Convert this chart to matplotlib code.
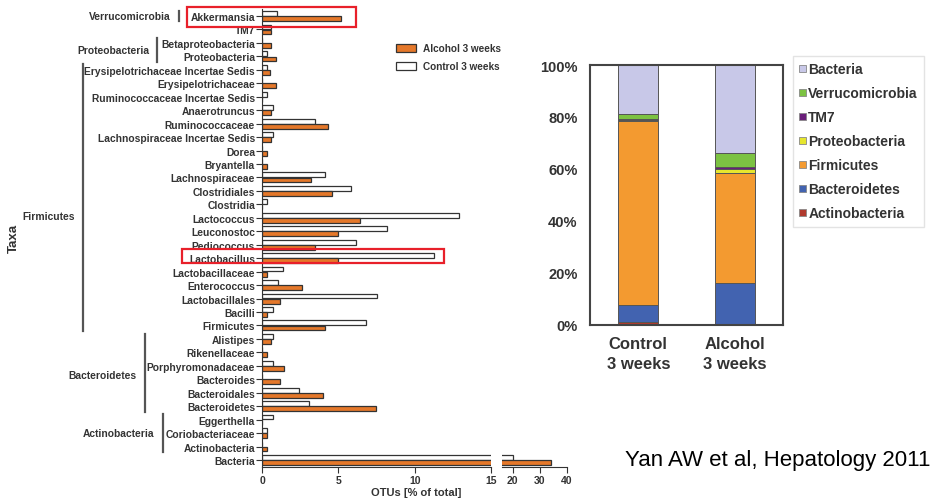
import matplotlib.pyplot as plt
import numpy as np
from matplotlib.patches import Patch, Rectangle
from matplotlib.transforms import blended_transform_factory

plt.rcParams['font.family'] = ['Liberation Sans', 'DejaVu Sans']

# --- left chart data (OTUs, % of total) ---
taxa = ['Akkermansia', 'TM7', 'Betaproteobacteria', 'Proteobacteria',
        'Erysipelotrichaceae Incertae Sedis', 'Erysipelotrichaceae',
        'Ruminococcaceae Incertae Sedis', 'Anaerotruncus', 'Ruminococcaceae',
        'Lachnospiraceae Incertae Sedis', 'Dorea', 'Bryantella', 'Lachnospiraceae',
        'Clostridiales', 'Clostridia', 'Lactococcus', 'Leuconostoc', 'Pediococcus',
        'Lactobacillus', 'Lactobacillaceae', 'Enterococcus', 'Lactobacillales',
        'Bacilli', 'Firmicutes', 'Alistipes', 'Rikenellaceae', 'Porphyromonadaceae',
        'Bacteroides', 'Bacteroidales', 'Bacteroidetes', 'Eggerthella',
        'Coriobacteriaceae', 'Actinobacteria', 'Bacteria']
control = [1.0, 0.6, 0.0, 0.35, 0.35, 0.0, 0.35, 0.7, 3.45, 0.7, 0.0, 0.0, 4.1,
           5.8, 0.35, 12.9, 8.2, 6.15, 11.25, 1.4, 1.05, 7.5, 0.7, 6.8, 0.7, 0.0,
           0.7, 0.0, 2.4, 3.05, 0.7, 0.35, 0.0, 20.0]
alcohol = [5.2, 0.6, 0.6, 0.9, 0.55, 0.9, 0.0, 0.6, 4.35, 0.6, 0.3, 0.3, 3.2,
           4.6, 0.0, 6.4, 5.0, 3.5, 5.0, 0.3, 2.6, 1.15, 0.3, 4.1, 0.6, 0.3,
           1.45, 1.15, 4.0, 7.45, 0.0, 0.3, 0.3, 34.0]

# phylum groups: (label, first row, last row, label row)
groups = [('Verrucomicrobia', 0, 0, 0), ('Proteobacteria', 2, 3, 2.5),
          ('Firmicutes', 4, 23, 14.85), ('Bacteroidetes', 24, 29, 26.7),
          ('Actinobacteria', 30, 32, 31)]
group_x = [178.5, 157, 83, 144.5, 162.5]  # bracket line x (px)

# --- right chart data (relative abundance, %) ---
groups_r = ['Control\n3 weeks', 'Alcohol\n3 weeks']
phyla = ['Actinobacteria', 'Bacteroidetes', 'Firmicutes', 'Proteobacteria',
         'TM7', 'Verrucomicrobia', 'Bacteria']
share = {
    'Actinobacteria': [1.0, 0.3],
    'Bacteroidetes': [6.7, 15.7],
    'Firmicutes': [70.8, 42.5],
    'Proteobacteria': [0.3, 1.5],
    'TM7': [0.5, 0.6],
    'Verrucomicrobia': [1.9, 5.4],
    'Bacteria': [18.8, 34.0],
}
phyla_colors = ['#B03A2E', '#4263B0', '#F39A30', '#E6E62E', '#6A1F7A',
                '#7CC242', '#C8C8E8']

W, H = 930, 502
fig = plt.figure(figsize=(W / 100, H / 100), dpi=100)
txt = '#333333'
orange = '#E5782A'

def fx(px):
    return px / W

def fy(py):
    return 1 - py / H

# left: broken x axis made of two axes
ax1 = fig.add_axes([fx(262), fy(467.7), fx(491) - fx(262), fy(10.3) - fy(467.7)])
ax2 = fig.add_axes([fx(502), fy(467.7), fx(567) - fx(502), fy(10.3) - fy(467.7)])

y = np.arange(len(taxa))
for ax in (ax1, ax2):
    ctl = ax.barh(y - 0.19, control, height=0.36, color='white',
                  edgecolor='#333333', linewidth=0.9)
    alc = ax.barh(y + 0.19, alcohol, height=0.36, color=orange,
                  edgecolor='#333333', linewidth=0.9)
    ax.set_ylim(len(taxa) - 0.5, -0.5)
    for s in ('top', 'right'):
        ax.spines[s].set_visible(False)
    ax.spines['bottom'].set_color(txt)
    ax.spines['left'].set_color(txt)
    ax.tick_params(axis='x', length=4, width=0.8, colors=txt, labelsize=7.5, pad=2)

ax1.set_xlim(0, 15)
ax1.set_xticks([0, 5, 10, 15])
ax1.set_yticks(y)
ax1.set_yticklabels(taxa, fontsize=7.4, fontweight='bold', color=txt)
ax1.tick_params(axis='y', length=4, width=0.8, colors=txt, pad=1)

ax2.set_xlim(16, 40)
ax2.set_xticks([20, 30, 40])
ax2.spines['left'].set_visible(False)
ax2.set_yticks([])
for ax in (ax1, ax2):
    for lab in ax.get_xticklabels():
        lab.set_fontweight('bold')

fig.text(fx(416), fy(493), 'OTUs [% of total]', ha='center', va='center',
         fontsize=8, fontweight='bold', color=txt)
fig.text(fx(14), fy(238), 'Taxa', rotation=90, ha='center', va='center',
         fontsize=9.5, fontweight='bold', color=txt)

# phylum brackets and labels
tr = blended_transform_factory(fig.transFigure, ax1.transData)
for (name, r0, r1, rl), lx in zip(groups, group_x):
    ax1.plot([fx(lx), fx(lx)], [r0 - 0.4, r1 + 0.4], transform=tr,
             color='#555555', lw=1.6, clip_on=False)
    ax1.text(fx(lx - 8), rl, name, transform=tr, ha='right', va='center',
             fontsize=7.4, fontweight='bold', color=txt)

# red highlight boxes
for row, x0, x1, d0, d1 in [(0, 187, 356, -0.65, 0.84), (18, 182, 444, -0.68, 0.39)]:
    fig.add_artist(Rectangle((fx(x0), row + d0), fx(x1) - fx(x0), d1 - d0,
                             transform=tr, fill=False, edgecolor='#E8202A', lw=1.6))

fig.legend(handles=[alc, ctl], labels=['Alcohol 3 weeks', 'Control 3 weeks'],
           loc='upper left', bbox_to_anchor=(fx(396), fy(44)), frameon=False,
           borderaxespad=0, borderpad=0, handlelength=2.0,
           handleheight=0.85, handletextpad=0.7, labelspacing=0.8,
           prop={'weight': 'bold', 'size': 7.2})
for t in fig.legends[-1].get_texts():
    t.set_color(txt)

# right: stacked composition bars
ax3 = fig.add_axes([fx(590), fy(326), fx(783) - fx(590), fy(66) - fy(326)])
xr = np.arange(len(groups_r))
bottom = np.zeros(len(groups_r))
handles = []
for p, c in zip(phyla, phyla_colors):
    vals = np.array(share[p])
    ax3.bar(xr, vals, 0.41, bottom=bottom, color=c, edgecolor='#555555', linewidth=0.7)
    bottom += vals
    handles.append(Patch(facecolor=c, edgecolor='#888888', linewidth=0.6, label=p))
ax3.set_xlim(-0.5, 1.5)
ax3.set_ylim(0, 100)
ax3.set_yticks([0, 20, 40, 60, 80, 100])
ax3.set_yticklabels(['0%', '20%', '40%', '60%', '80%', '100%'],
                    fontsize=10.5, fontweight='bold', color=txt)
ax3.set_xticks(xr)
ax3.set_xticklabels(groups_r, fontsize=12, fontweight='bold', color=txt,
                    linespacing=1.4)
ax3.tick_params(axis='y', length=0, pad=9)
ax3.tick_params(axis='x', length=0, pad=8)
for s in ax3.spines.values():
    s.set_color('#444444')
    s.set_linewidth(1.5)

leg = fig.legend(handles=handles[::-1], loc='upper left',
                 bbox_to_anchor=(fx(793), fy(57)), borderaxespad=0,
                 prop={'weight': 'bold', 'size': 10}, handlelength=0.45,
                 handleheight=0.45, handletextpad=0.2, labelspacing=0.72,
                 borderpad=0.45, fancybox=False, edgecolor='#DDDDDD')
for t in leg.get_texts():
    t.set_color(txt)

fig.text(fx(625), fy(461), 'Yan AW et al, Hepatology 2011', ha='left', va='center',
         fontsize=16, color='black')

fig.savefig('out.png', dpi=100)
